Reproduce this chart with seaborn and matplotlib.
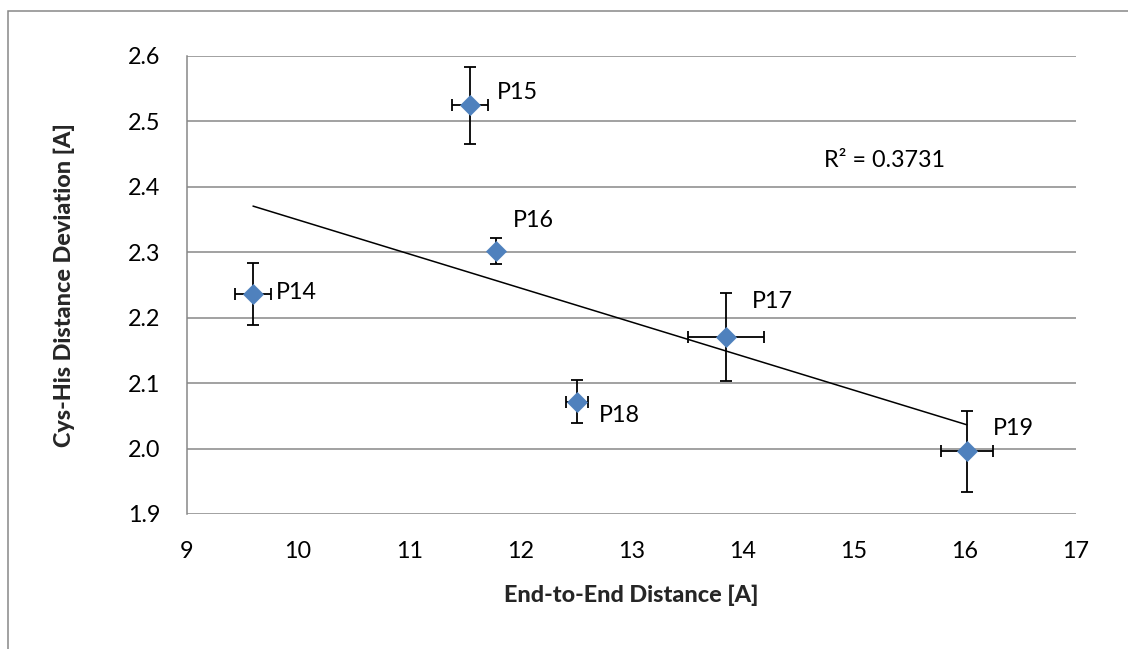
import numpy as np
import pandas as pd
import matplotlib
matplotlib.use("Agg")
import matplotlib.pyplot as plt
from matplotlib.patches import Rectangle
import seaborn as sns

# Peptide measurements
peptides = ["P14", "P15", "P16", "P17", "P18", "P19"]
end_to_end = [9.594, 11.547, 11.781, 13.851, 12.508, 16.018]
end_to_end_err = [0.158, 0.158, 0.0, 0.34, 0.097, 0.237]
cys_his_dev = [2.236, 2.524, 2.302, 2.170, 2.0715, 1.996]
cys_his_dev_err = [0.048, 0.059, 0.020, 0.067, 0.033, 0.062]
r2_label = "R\u00b2 = 0.3731"

x_ticks = [9, 10, 11, 12, 13, 14, 15, 16, 17]
y_ticks = [1.9, 2.0, 2.1, 2.2, 2.3, 2.4, 2.5, 2.6]

# label offsets in pixels (dx, dy) relative to each point
label_offsets = [(23, 2), (27, 13), (17, 30), (26, 36), (22, -14), (26, 23)]

df = pd.DataFrame({"peptide": peptides, "x": end_to_end, "y": cys_his_dev})

sns.set_theme(style="white")
plt.rcParams["font.family"] = ["Lato", "DejaVu Sans"]

W, H, DPI = 1128, 649, 100
FS = 16.8
fig = plt.figure(figsize=(W / DPI, H / DPI), dpi=DPI)
fig.patch.set_facecolor("white")

left, right, top, bottom = 187, 1076, 55.7, 514
ax = fig.add_axes([left / W, 1 - bottom / H, (right - left) / W, (bottom - top) / H])

grid_c = "#878787"
for yv in y_ticks:
    ax.axhline(yv, color=grid_c, lw=1.1, zorder=0)

# linear trendline
sns.regplot(data=df, x="x", y="y", scatter=False, ci=None, truncate=True,
            ax=ax, line_kws=dict(color="black", lw=1.1, zorder=2))

ax.errorbar(end_to_end, cys_his_dev, xerr=end_to_end_err, yerr=cys_his_dev_err,
            fmt="none", ecolor="black", elinewidth=1.3, capsize=4.3,
            capthick=1.3, zorder=3)

sns.scatterplot(data=df, x="x", y="y", marker="D", s=105, color="#4F81BD",
                edgecolor="#4F81BD", linewidth=0.5, ax=ax, zorder=4)

for name, xv, yv, (dx, dy) in zip(peptides, end_to_end, cys_his_dev, label_offsets):
    ax.annotate(name, (xv, yv), xytext=(dx * 72 / DPI, dy * 72 / DPI),
                textcoords="offset points", ha="left", va="center",
                fontsize=FS, color="black", zorder=5)

ax.text(0.716, 0.772, r2_label, transform=ax.transAxes, ha="left", va="center",
        fontsize=FS, color="black")

ax.set_xlim(9, 17)
ax.set_ylim(1.9, 2.6)
ax.set_xticks(x_ticks)
ax.set_yticks(y_ticks)
ax.set_xticklabels([str(v) for v in x_ticks])
ax.set_yticklabels([f"{v:.1f}" for v in y_ticks])
ax.tick_params(axis="both", length=0, labelsize=FS, colors="black")
ax.tick_params(axis="y", pad=19)
ax.tick_params(axis="x", pad=19.5)

for side in ["top", "right", "bottom"]:
    ax.spines[side].set_visible(False)
ax.spines["left"].set_color(grid_c)
ax.spines["left"].set_linewidth(1.1)

ax.set_xlabel("End-to-End Distance [A]", fontsize=FS, fontweight="black", labelpad=16)
ax.set_ylabel("Cys-His Distance Deviation [A]", fontsize=FS, fontweight="black", labelpad=38)

# chart frame
fig.patches.append(Rectangle((7.5 / W, -0.1), 1.2, 1 - 10.5 / H + 0.1,
                             transform=fig.transFigure, fill=False,
                             edgecolor=grid_c, lw=1.1, zorder=0))

fig.savefig("out.png", dpi=DPI, facecolor="white")
